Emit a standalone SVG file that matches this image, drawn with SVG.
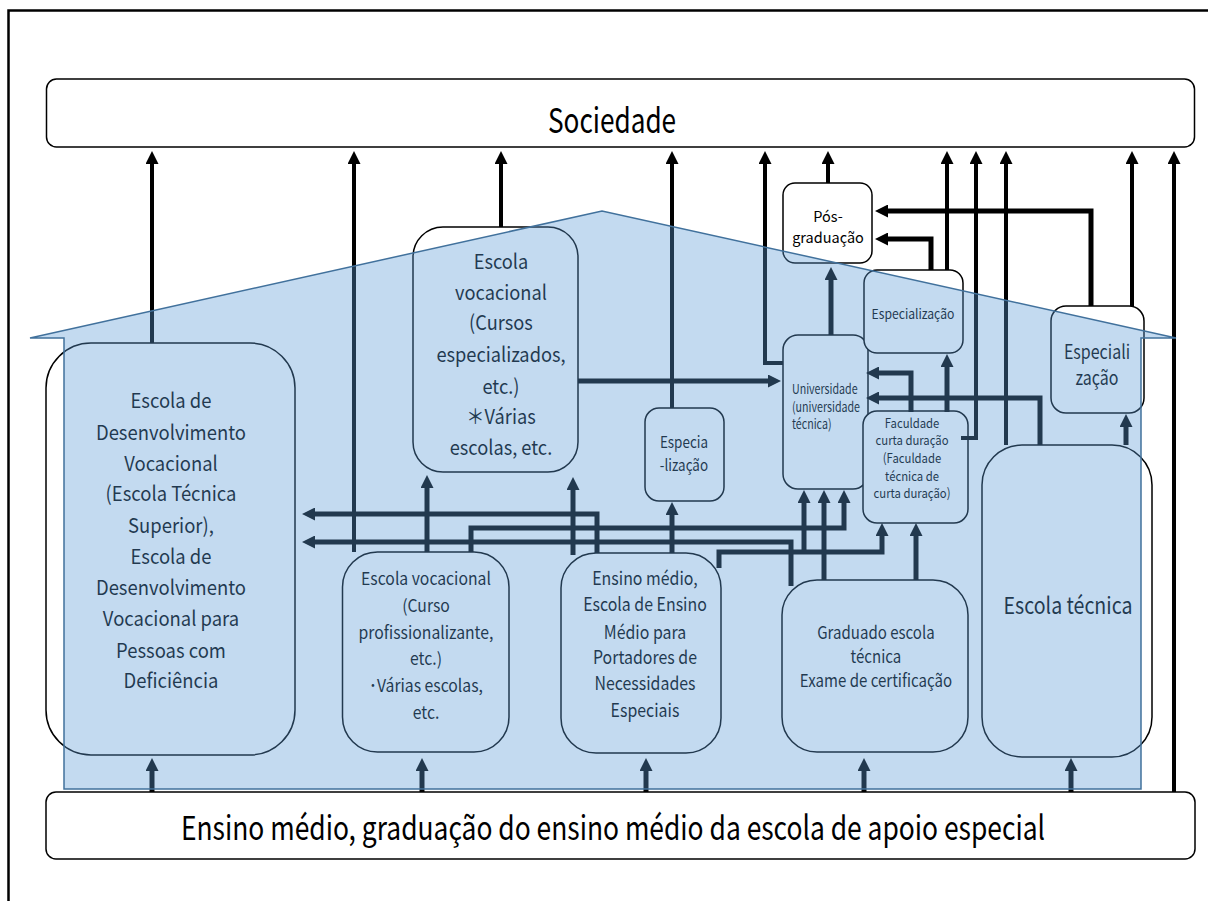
<svg xmlns="http://www.w3.org/2000/svg" width="1208" height="901" viewBox="0 0 1208 901">
<style>
.box{fill:#fff;stroke:#000;stroke-width:1.5}
.t{font-family:"Noto Sans CJK JP","Liberation Sans",sans-serif;fill:#000;text-anchor:middle}
.s{text-anchor:start}
.c{fill:none;stroke:#000;stroke-width:4;marker-end:url(#a)}
.c2{fill:none;stroke:#000;stroke-width:5;marker-end:url(#a)}
</style>
<defs>
<marker id="a" viewBox="0 0 13 13" refX="4" refY="6.5" markerWidth="13" markerHeight="13" markerUnits="userSpaceOnUse" orient="auto">
<path d="M0,0 L13,6.5 L0,13 z" fill="#000"/>
</marker>
</defs>
<rect width="1208" height="901" fill="#fff"/>
<path d="M8.5,901 V10.5 H1208" fill="none" stroke="#000" stroke-width="2.5"/>

<g id="sociedade">
<rect class="box" x="46.5" y="79" width="1148" height="68" rx="10"/>
<text class="t" x="612" y="133" font-size="34" transform="matrix(0.77 0 0 1 140.8 0)">Sociedade</text>
</g>
<g id="ensino-base">
<rect class="box" x="46" y="792" width="1149" height="67" rx="10"/>
<text class="t" x="613" y="840" font-size="33" transform="matrix(0.8 0 0 1 122.6 0)">Ensino médio, graduação do ensino médio da escola de apoio especial</text>
</g>
<g id="escola-desenvolvimento">
<rect class="box" x="46" y="343" width="249" height="412" rx="45"/>
<text class="t" font-size="20.5" transform="matrix(0.9 0 0 1 17.1 0)"><tspan x="171" y="408">Escola de</tspan><tspan x="171" y="440">Desenvolvimento</tspan><tspan x="171" y="471">Vocacional</tspan><tspan x="171" y="501">(Escola Técnica</tspan><tspan x="171" y="533">Superior),</tspan><tspan x="171" y="564">Escola de</tspan><tspan x="171" y="595">Desenvolvimento</tspan><tspan x="171" y="626">Vocacional para</tspan><tspan x="171" y="658">Pessoas com</tspan><tspan x="171" y="688">Deficiência</tspan></text>
</g>
<g id="escola-vocacional-cursos">
<rect class="box" x="413" y="227" width="165" height="245" rx="30"/>
<text class="t" font-size="20.5" transform="matrix(0.89 0 0 1 55.1 0)"><tspan x="501" y="269">Escola</tspan><tspan x="501" y="300">vocacional</tspan><tspan x="501" y="330">(Cursos</tspan><tspan x="501" y="362">especializados,</tspan><tspan x="501" y="394">etc.)</tspan><tspan x="501" y="424">＊Várias</tspan><tspan x="501" y="455">escolas, etc.</tspan></text>
</g>
<g id="escola-vocacional-curso">
<rect class="box" x="342.5" y="552" width="166.5" height="200" rx="35"/>
<text class="t" font-size="17.5" transform="matrix(0.9 0 0 1 42.6 0)"><tspan x="426" y="585">Escola vocacional</tspan><tspan x="426" y="612">(Curso</tspan><tspan x="426" y="639">profissionalizante,</tspan><tspan x="426" y="665">etc.)</tspan><tspan x="426" y="692">･Várias escolas,</tspan><tspan x="426" y="719">etc.</tspan></text>
</g>
<g id="ensino-medio">
<rect class="box" x="561" y="553" width="160" height="200" rx="35"/>
<text class="t" font-size="18.5" transform="matrix(0.86 0 0 1 90.3 0)"><tspan x="645" y="585">Ensino médio,</tspan><tspan x="645" y="611">Escola de Ensino</tspan><tspan x="645" y="639">Médio para</tspan><tspan x="645" y="664">Portadores de</tspan><tspan x="645" y="690">Necessidades</tspan><tspan x="645" y="717">Especiais</tspan></text>
</g>
<g id="especia-lizacao">
<rect class="box" x="645" y="408" width="79" height="93" rx="14"/>
<text class="t" font-size="16" transform="matrix(0.84 0 0 1 109.4 0)"><tspan x="684" y="448">Especia</tspan><tspan x="684" y="471">-lização</tspan></text>
</g>
<g id="universidade">
<rect class="box" x="783" y="335" width="85" height="154" rx="15"/>
<text class="t s" font-size="13.5" transform="matrix(0.79 0 0 1 166.3 0)"><tspan x="792" y="394">Universidade</tspan><tspan x="792" y="412">(universidade</tspan><tspan x="792" y="429">técnica)</tspan></text>
</g>
<g id="pos-graduacao">
<rect class="box" x="783" y="183" width="89" height="80" rx="12"/>
<text class="t" font-size="14.5"><tspan x="828" y="222">Pós-</tspan><tspan x="828" y="243">graduação</tspan></text>
</g>
<g id="especializacao">
<rect class="box" x="864" y="270" width="99" height="83" rx="13"/>
<text class="t" x="913" y="319" font-size="13.5" transform="matrix(0.9 0 0 1 91.3 0)">Especialização</text>
</g>
<g id="faculdade">
<rect class="box" x="863" y="411" width="105" height="112" rx="14"/>
<text class="t" font-size="13" transform="matrix(0.87 0 0 1 118.6 0)"><tspan x="912" y="428">Faculdade</tspan><tspan x="912" y="445">curta duração</tspan><tspan x="912" y="463">(Faculdade</tspan><tspan x="912" y="481">técnica de</tspan><tspan x="912" y="498">curta duração)</tspan></text>
</g>
<g id="graduado">
<rect class="box" x="782" y="580" width="186" height="172" rx="35"/>
<text class="t" font-size="17.5" transform="matrix(0.86 0 0 1 122.6 0)"><tspan x="876" y="639">Graduado escola</tspan><tspan x="876" y="663">técnica</tspan><tspan x="876" y="687">Exame de certificação</tspan></text>
</g>
<g id="especiali-zacao">
<rect class="box" x="1051" y="306" width="93" height="107" rx="15"/>
<text class="t" font-size="19.5" transform="matrix(0.82 0 0 1 197.5 0)"><tspan x="1097" y="359">Especiali</tspan><tspan x="1097" y="385">zação</tspan></text>
</g>
<g id="escola-tecnica">
<rect class="box" x="982" y="445" width="170" height="312" rx="40"/>
<text class="t" x="1068" y="614" font-size="23" transform="matrix(0.85 0 0 1 160.2 0)">Escola técnica</text>
</g>

<g id="connectors">
<path class="c" d="M152,343 V160"/>
<path class="c" d="M354,552 V160"/>
<path class="c" d="M501,227 V160"/>
<path class="c" d="M672,408 V160"/>
<path class="c" d="M783,363 H765 V160"/>
<path class="c" d="M828,183 V160"/>
<path class="c" d="M947,270 V160"/>
<path class="c" d="M961,438 H976 V160"/>
<path class="c" d="M1006,445 V160"/>
<path class="c" d="M1132,306 V160"/>
<path class="c" d="M1174,792 V160"/>
<path class="c2" d="M1091,306 V211 H884"/>
<path class="c2" d="M931,270 V239 H884"/>
<path class="c2" d="M831,335 V276"/>
<path class="c2" d="M578,381 H772"/>
<path class="c2" d="M911,412 V373 H875"/>
<path class="c2" d="M1040,445 V398 H875"/>
<path class="c2" d="M947,412 V363"/>
<path class="c2" d="M1126,445 V423"/>
<path class="c2" d="M427,552 V484"/>
<path class="c2" d="M573,555 V486"/>
<path class="c2" d="M672,553 V511"/>
<path class="c2" d="M597,553 V514 H311"/>
<path class="c2" d="M791,586 V542 H311"/>
<path class="c2" d="M471,552 V528 H844 V499"/>
<path class="c2" d="M719,568 V552 H882 V532"/>
<path class="c2" d="M804,552 V499"/>
<path class="c2" d="M824,580 V499"/>
<path class="c2" d="M916,580 V532"/>
<path class="c2" d="M152,792 V767"/>
<path class="c2" d="M422,792 V767"/>
<path class="c2" d="M646,792 V767"/>
<path class="c2" d="M864,792 V767"/>
<path class="c2" d="M1071,792 V767"/>
</g>

<polygon id="house" points="30,338 602,211 1176,338 1141,338 1141,789 64,789 64,338" fill="#5B9BD5" fill-opacity="0.37" stroke="#41719C" stroke-width="1.5"/>
</svg>
